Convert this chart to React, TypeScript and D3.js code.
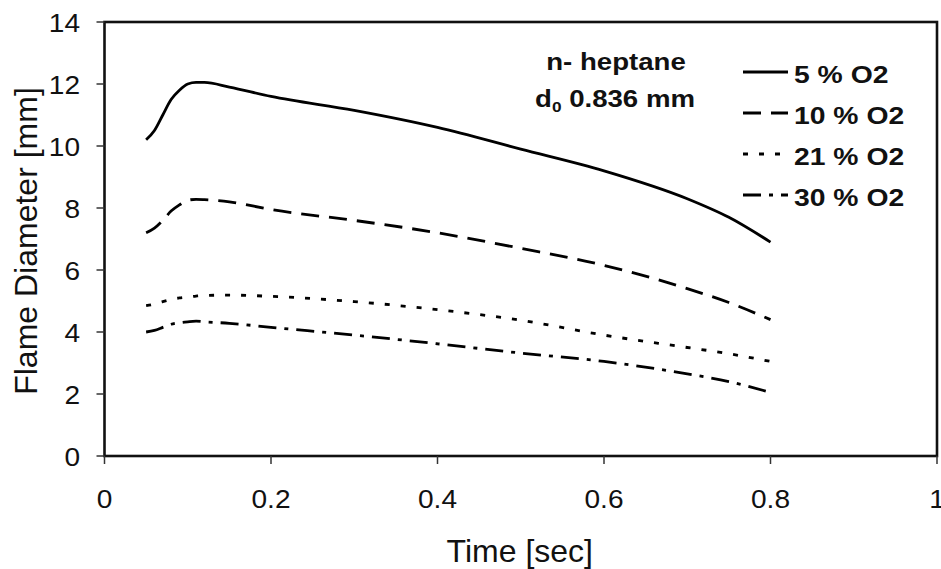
import { useEffect, useRef } from "react";
import * as d3 from "d3";

// Time samples (sec)
const times = [0.05, 0.06, 0.07, 0.08, 0.09, 0.1, 0.11, 0.12, 0.15, 0.2, 0.3, 0.4, 0.5, 0.6, 0.7, 0.75, 0.8];

// Flame diameter [mm] per O2 level
const o2_5 = [10.2, 10.5, 11.0, 11.5, 11.8, 12.0, 12.05, 12.05, 11.9, 11.6, 11.15, 10.6, 9.9, 9.2, 8.3, 7.7, 6.9];
const o2_10 = [7.2, 7.35, 7.6, 7.9, 8.1, 8.25, 8.28, 8.27, 8.2, 7.95, 7.6, 7.2, 6.7, 6.15, 5.4, 4.95, 4.4];
const o2_21 = [4.85, 4.9, 4.98, 5.05, 5.1, 5.13, 5.16, 5.18, 5.19, 5.15, 4.98, 4.72, 4.38, 3.9, 3.5, 3.3, 3.05];
const o2_30 = [4.0, 4.05, 4.15, 4.25, 4.3, 4.33, 4.35, 4.33, 4.28, 4.15, 3.9, 3.62, 3.32, 3.05, 2.65, 2.4, 2.05];

const seriesLabels = ["5 % O2", "10 % O2", "21 % O2", "30 % O2"];
const seriesValues = [o2_5, o2_10, o2_21, o2_30];
const dashes = ["none", "18 10", "5 11", "18 8 4 8"];

const xTicks = [0, 0.2, 0.4, 0.6, 0.8, 1];
const yTicks = [0, 2, 4, 6, 8, 10, 12, 14];

export default function App() {
  const svgRef = useRef<SVGSVGElement>(null);

  useEffect(() => {
    const svg = d3.select(svgRef.current);
    svg.selectAll("*").remove();

    const left = 104.5, right = 937, top = 22, bottom = 456;
    const x = d3.scaleLinear().domain([0, 1]).range([left, right]);
    const y = d3.scaleLinear().domain([0, 14]).range([bottom, top]);
    const font = "Arial, 'Liberation Sans', sans-serif";

    svg.append("rect").attr("width", 941).attr("height", 569).attr("fill", "#fff");

    // text helper: slightly wide glyphs like the original raster
    const label = (tx: number, ty: number, s: string, size: number, sx: number, anchor: string, bold = false) =>
      svg.append("text")
        .attr("transform", `translate(${tx},${ty}) scale(${sx},1)`)
        .attr("text-anchor", anchor)
        .attr("font-size", size)
        .attr("font-weight", bold ? "bold" : "normal")
        .attr("font-family", font)
        .attr("fill", "#111")
        .text(s);

    // frame
    svg.append("rect")
      .attr("x", left).attr("y", top)
      .attr("width", right - left).attr("height", bottom - top)
      .attr("fill", "none").attr("stroke", "#111").attr("stroke-width", 2.6);

    // ticks
    yTicks.forEach((t) => {
      svg.append("line").attr("x1", left - 8).attr("x2", left).attr("y1", y(t)).attr("y2", y(t))
        .attr("stroke", "#333").attr("stroke-width", 1.5);
      label(80, y(t) + 9.5, String(t), 26, 1.08, "end");
    });
    xTicks.forEach((t) => {
      svg.append("line").attr("x1", x(t)).attr("x2", x(t)).attr("y1", bottom).attr("y2", bottom + 8)
        .attr("stroke", "#333").attr("stroke-width", 1.5);
      label(x(t), 508, String(t), 26, 1.08, "middle");
    });

    // axis titles
    label((left + right) / 2 - 1, 562, "Time [sec]", 32, 1, "middle");
    svg.append("text")
      .attr("transform", `translate(37,${(top + bottom) / 2 + 2}) rotate(-90)`)
      .attr("text-anchor", "middle").attr("font-size", 32).attr("font-family", font).attr("fill", "#111")
      .text("Flame Diameter [mm]");

    // lines
    const line = d3.line<number>()
      .x((_, i) => x(times[i]))
      .y((d) => y(d))
      .curve(d3.curveMonotoneX);

    seriesValues.forEach((vals, i) => {
      svg.append("path")
        .datum(vals)
        .attr("fill", "none")
        .attr("stroke", "#000")
        .attr("stroke-width", 2.8)
        .attr("stroke-dasharray", dashes[i])
        .attr("d", line);
    });

    // annotation
    label(616, 70, "n- heptane", 24, 1.15, "middle", true);
    const l2 = svg.append("text")
      .attr("transform", `translate(615,107) scale(1.15,1)`)
      .attr("text-anchor", "middle").attr("font-size", 24).attr("font-weight", "bold")
      .attr("font-family", font).attr("fill", "#111");
    l2.append("tspan").text("d");
    l2.append("tspan").attr("font-size", 15).attr("dy", 5).text("0");
    l2.append("tspan").attr("dy", -5).text(" 0.836 mm");

    // legend
    seriesLabels.forEach((lab, i) => {
      const yy = 72 + i * 41;
      svg.append("line")
        .attr("x1", 743).attr("x2", 788).attr("y1", yy).attr("y2", yy)
        .attr("stroke", "#000").attr("stroke-width", 2.8)
        .attr("stroke-dasharray", dashes[i]);
      label(794, yy + 11, lab, 24, 1.18, "start", true);
    });
  }, []);

  return (
    <svg ref={svgRef} width={941} height={569}
      style={{ position: "absolute", left: 0, top: 0, display: "block" }} />
  );
}
